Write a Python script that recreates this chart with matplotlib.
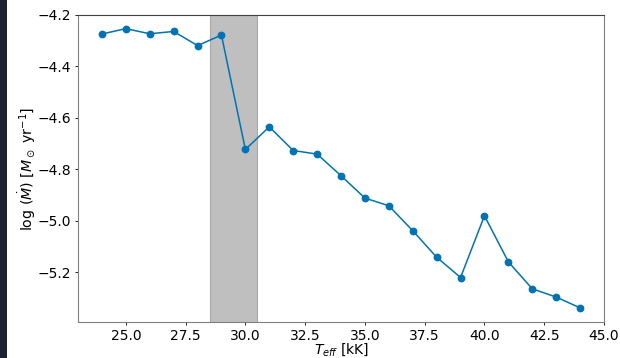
#!/usr/bin/env python3
# Mass-loss rate versus effective temperature

import matplotlib
matplotlib.use("Agg")
import matplotlib.pyplot as plt
from matplotlib.patches import Rectangle

# effective temperature [kK]
teff = [24, 25, 26, 27, 28, 29, 30, 31, 32, 33, 34,
        35, 36, 37, 38, 39, 40, 41, 42, 43, 44]
# log mass-loss rate [Msun / yr]
log_mdot = [-4.274, -4.253, -4.273, -4.264, -4.319, -4.278, -4.723,
            -4.635, -4.727, -4.741, -4.825, -4.912, -4.942, -5.039,
            -5.142, -5.221, -4.981, -5.160, -5.265, -5.297, -5.339]
# shaded temperature band
band = (28.5, 30.5)

fig = plt.figure(figsize=(6.2, 3.58), dpi=100)
ax = fig.add_axes([78 / 620, 1 - 322 / 358, 526 / 620, 307 / 358])

# dark strip on the left edge of the screenshot
fig.patches.append(Rectangle((0, 0), 7 / 620, 1, transform=fig.transFigure,
                             facecolor="#1b2230", edgecolor="none", zorder=10))

ax.axvspan(band[0], band[1], facecolor="#bfbfbf", edgecolor="#a8a8a8",
           linewidth=0.8, zorder=1)
ax.plot(teff, log_mdot, "-o", color="#0173b2", markersize=4.6,
        linewidth=1.1, zorder=3)

ax.set_ylim(-5.394, -4.2)
ax.set_xlim(23, 45)
ax.set_yticks([-5.2, -5.0, -4.8, -4.6, -4.4, -4.2])
ax.tick_params(labelsize=10, length=2.5, width=0.6, pad=2.2)

for side in ["left", "bottom", "right"]:
    ax.spines[side].set_color("#808080")
ax.spines["top"].set_color("#404040")
for sp in ax.spines.values():
    sp.set_linewidth(0.8)

ax.set_xlabel(r"$T_{eff}$ [kK]", fontsize=10)
ax.set_ylabel(r"log $(\dot{M})$ [$M_\odot$ yr$^{-1}$]", fontsize=10.2)
ax.xaxis.set_label_coords(0.5, -0.064)
ax.yaxis.set_label_coords(-0.076, 0.5)

fig.savefig("out.png", dpi=100)
